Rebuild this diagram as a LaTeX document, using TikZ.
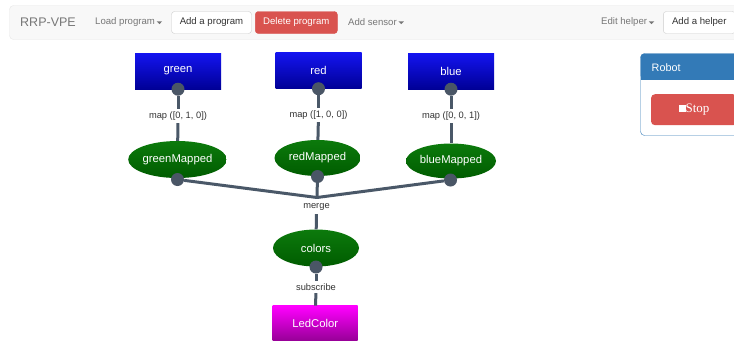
\documentclass[tikz,border=0pt]{standalone}
\usepackage{fontspec}
\setmainfont{Liberation Sans}
\newfontfamily\stopfont{Liberation Serif}
\usetikzlibrary{shapes.geometric,calc}

\definecolor{navbg}{HTML}{F8F8F8}
\definecolor{navline}{HTML}{E7E7E7}
\definecolor{navtext}{HTML}{777777}
\definecolor{btntext}{HTML}{333333}
\definecolor{btnline}{HTML}{CCCCCC}
\definecolor{danger}{HTML}{D9534F}
\definecolor{panelblue}{HTML}{337AB7}
\definecolor{srctop}{RGB}{20,20,240}
\definecolor{srcbot}{RGB}{0,0,150}
\definecolor{optop}{RGB}{12,122,12}
\definecolor{opbot}{RGB}{0,92,0}
\definecolor{sinktop}{RGB}{255,0,255}
\definecolor{sinkbot}{RGB}{150,0,150}
\definecolor{knobc}{HTML}{4A5666}
\definecolor{wirec}{HTML}{4A5868}
\definecolor{lblc}{HTML}{333333}

\begin{document}
\begin{tikzpicture}[x=1pt,y=-1pt,
  srcbox/.style={rectangle, minimum width=86pt, minimum height=36pt, inner sep=0pt,
    top color=srctop, bottom color=srcbot, text=white,
    font=\fontsize{11.3}{13}\selectfont},
  sinkbox/.style={srcbox, top color=sinktop, bottom color=sinkbot},
  opnode/.style={ellipse, inner sep=0pt, top color=optop, bottom color=opbot,
    text=white, font=\fontsize{11.3}{13}\selectfont},
  knob/.style={circle, fill=knobc, minimum size=13pt, inner sep=0pt},
  wire/.style={draw=wirec, line width=3pt},
  oplabel/.style={text=lblc, inner sep=2.5pt, font=\fontsize{9.3}{11}\selectfont},
  navlink/.style={text=navtext, anchor=west, inner sep=0pt, font=\fontsize{9.6}{11}\selectfont},
  navbtn/.style={rectangle, rounded corners=3pt, draw=btnline, fill=white, text=btntext,
    minimum height=22pt, inner sep=0pt, font=\fontsize{9.6}{11}\selectfont},
  dangerbtn/.style={navbtn, draw=danger, fill=danger, text=white},
]
\useasboundingbox (0,0) rectangle (734,341);
\fill[white] (0,0) rectangle (734,341);

% ---- navigation bar ----
\filldraw[fill=navbg, draw=navline, rounded corners=4pt] (9.5,5.5) rectangle (760,39.5);
\node[text=navtext, anchor=west, inner sep=0pt, font=\fontsize{12.5}{14}\selectfont] (brand) at (20,22.5) {RRP-VPE};
\node[navlink] (loadprog) at (95,22.5) {Load program};
\fill[navtext] ($(loadprog.east)+(1.5,-1.2)$) -- ++(5.5,0) -- ++(-2.75,2.8) -- cycle;
\node[navbtn, minimum width=80pt] (addprog) at (211.5,22.5) {Add a program};
\node[dangerbtn, minimum width=82pt] (delprog) at (296.3,22.5) {Delete program};
\node[navlink] (addsensor) at (348,22.5) {Add sensor};
\fill[navtext] ($(addsensor.east)+(1.5,-1.2)$) -- ++(5.5,0) -- ++(-2.75,2.8) -- cycle;
\node[navlink] (edithelper) at (601,22.5) {Edit helper};
\fill[navtext] ($(edithelper.east)+(1.5,-1.2)$) -- ++(5.5,0) -- ++(-2.75,2.8) -- cycle;
\node[navbtn, minimum width=72pt] (addhelper) at (699.3,22.5) {Add a helper};

% ---- robot panel ----
\fill[panelblue, rounded corners=4pt] (640.5,53.5) rectangle (760,79.5);
\fill[panelblue] (640.5,70) rectangle (760,79.5);
\draw[panelblue, rounded corners=4pt] (640.5,53.5) rectangle (760,135.5);
\node[text=white, anchor=west, inner sep=0pt, font=\fontsize{10.8}{12}\selectfont] (robot) at (651.5,67.5) {Robot};
\node[rectangle, rounded corners=4pt, fill=danger, text=white, minimum width=86pt,
  minimum height=31pt, inner sep=0pt, font=\stopfont\fontsize{13}{15}\selectfont] (stop)
  at (694,109.7) {\raisebox{0.6pt}{\rule{7pt}{7.5pt}}Stop};

% ---- sources ----
\node[srcbox] (green) at (178,71) {green};
\node[srcbox] (red) at (318.5,70.5) {red};
\node[srcbox] (blue) at (451,71) {blue};

% ---- operators ----
\node[opnode, minimum width=98pt, minimum height=37pt] (greenMapped) at (177.5,159.5) {greenMapped};
\node[opnode, minimum width=86pt, minimum height=36pt] (redMapped) at (317.5,158) {redMapped};
\node[opnode, minimum width=90pt, minimum height=35pt] (blueMapped) at (451,161) {blueMapped};
\node[opnode, minimum width=86pt, minimum height=37pt] (colors) at (316,248) {colors};

% ---- sink ----
\node[sinkbox, minimum width=85pt, minimum height=35pt] (ledcolor) at (315.2,323.4) {LedColor};

% ---- edge labels ----
\node[oplabel] (lgreen) at (178,116) {map ([0, 1, 0])};
\node[oplabel] (lred) at (318.5,115) {map ([1, 0, 0])};
\node[oplabel] (lblue) at (451,116) {map ([0, 0, 1])};
\node[oplabel, inner sep=3.5pt] (lmerge) at (316.5,207) {merge};
\node[oplabel] (lsub) at (316,287) {subscribe};

% ---- output knobs ----
\node[knob] (kgreen) at (green.south) {};
\node[knob] (kred) at (red.south) {};
\node[knob] (kblue) at (blue.south) {};
\node[knob] (kgreenMapped) at (177.5,179.5) {};
\node[knob] (kredMapped) at (317.5,176.5) {};
\node[knob] (kblueMapped) at (450.5,180) {};
\node[knob] (kcolors) at (316,267) {};
\coordinate (join) at (317,197.5);

% ---- wires ----
\path[wire] (kgreen) -- (lgreen);
\path[wire] (lgreen) -- (greenMapped);
\path[wire] (kred) -- (lred);
\path[wire] (lred) -- (redMapped);
\path[wire] (kblue) -- (lblue);
\path[wire] (lblue) -- (blueMapped);
\path[wire] (kgreenMapped) -- (join);
\path[wire] (kredMapped) -- (join);
\path[wire] (kblueMapped) -- (join);
\path[wire] (lmerge) -- (colors);
\path[wire] (kcolors) -- (lsub);
\path[wire] (lsub) -- (ledcolor);
\end{tikzpicture}
\end{document}
